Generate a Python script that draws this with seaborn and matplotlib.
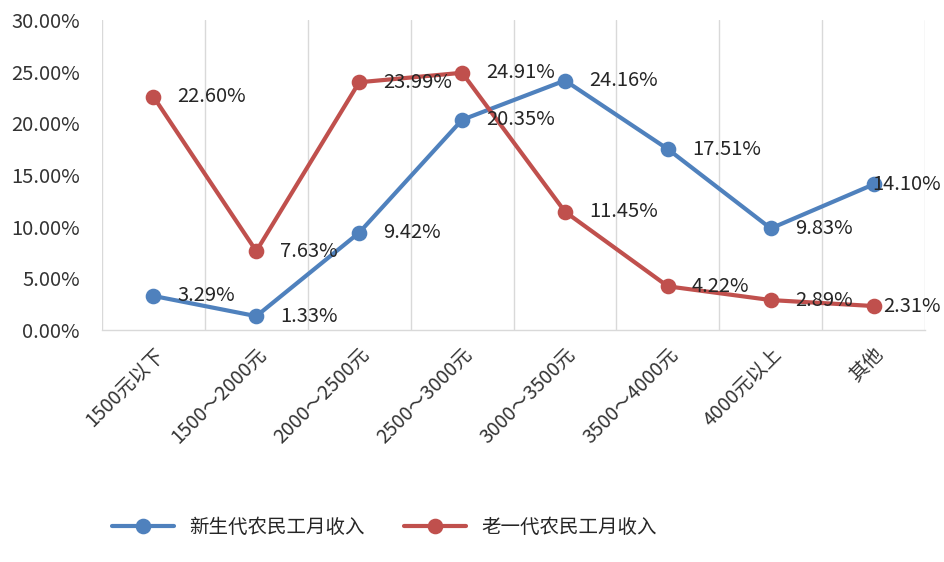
import matplotlib
matplotlib.use("Agg")
import matplotlib.pyplot as plt
import seaborn as sns
import pandas as pd
from matplotlib.ticker import FuncFormatter, FixedLocator

categories = ["1500元以下", "1500～2000元", "2000～2500元", "2500～3000元",
              "3000～3500元", "3500～4000元", "4000元以上", "其他"]
series_names = ["新生代农民工月收入", "老一代农民工月收入"]
blue_values = [3.29, 1.33, 9.42, 20.35, 24.16, 17.51, 9.83, 14.10]
red_values = [22.60, 7.63, 23.99, 24.91, 11.45, 4.22, 2.89, 2.31]
y_ticks = [0, 5, 10, 15, 20, 25, 30]

sns.set_theme(style="white")
plt.rcParams["font.family"] = ["Noto Sans CJK SC", "DejaVu Sans"]

df = pd.DataFrame({
    "category": categories * 2,
    "value": blue_values + red_values,
    "series": [series_names[0]] * len(categories) + [series_names[1]] * len(categories),
})

fig = plt.figure(figsize=(9.44, 5.62), dpi=100)
ax = fig.add_axes([0.108, 0.413, 0.872, 0.551])

palette = {series_names[0]: "#4F81BD", series_names[1]: "#C0504D"}
sns.pointplot(data=df, x="category", y="value", hue="series", order=categories,
              hue_order=series_names, palette=palette, markers="o",
              markersize=9, linewidth=3.0, ax=ax, legend=True)

ax.set_xlim(-0.5, len(categories) - 0.5)
ax.set_ylim(0, 30)
ax.yaxis.set_major_locator(FixedLocator(y_ticks))
ax.yaxis.set_major_formatter(FuncFormatter(lambda v, p: f"{v:.2f}%"))
ax.set_xlabel("")
ax.set_ylabel("")

# vertical gridlines at category boundaries
ax.xaxis.set_minor_locator(FixedLocator([i - 0.5 for i in range(len(categories) + 1)]))
ax.grid(False)
ax.grid(which="minor", axis="x", color="#D9D9D9", linewidth=1)
ax.tick_params(which="both", length=0)

for s in ["top", "right", "left"]:
    ax.spines[s].set_visible(False)
ax.spines["bottom"].set_color("#D9D9D9")
ax.spines["bottom"].set_linewidth(1)

ax.tick_params(axis="y", labelsize=14.5, colors="#333333", pad=16)
ax.set_xticks(range(len(categories)))
ax.set_xticklabels(categories, rotation=45, ha="right", rotation_mode="anchor",
                   fontsize=14, color="#333333")
ax.tick_params(axis="x", pad=10)

last = len(categories) - 1
for vals in (blue_values, red_values):
    for i, v in enumerate(vals):
        if i == last:
            # keep the last label inside the chart area, as the reference does
            ax.annotate(f"{v:.2f}%", xy=(0.997, v), xycoords=("figure fraction", "data"),
                        ha="right", va="center", fontsize=14.5, color="#262626")
        else:
            ax.annotate(f"{v:.2f}%", (i, v), xytext=(24, 0), textcoords="offset pixels",
                        ha="left", va="center", fontsize=14.5, color="#262626")

handles, labels = ax.get_legend_handles_labels()
ax.legend_.remove()
fig.legend(handles, labels, loc="center left", bbox_to_anchor=(0.1, 0.062),
           ncol=2, frameon=False, fontsize=14, handlelength=3.2, columnspacing=2.0)

fig.savefig("out.png", dpi=100)
